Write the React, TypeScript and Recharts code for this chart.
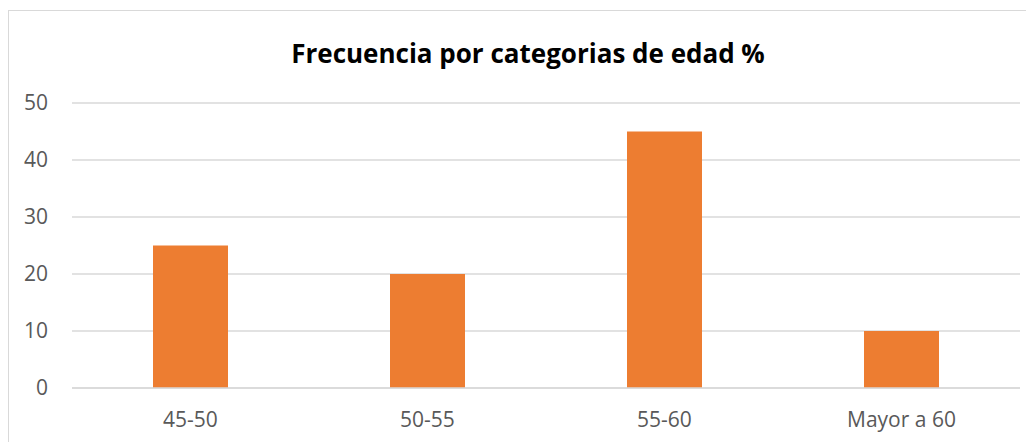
import React from "react";
import {
  BarChart,
  Bar,
  XAxis,
  YAxis,
  CartesianGrid,
} from "recharts";

const categories: string[] = ["45-50", "50-55", "55-60", "Mayor a 60"];
const values: number[] = [25, 20, 45, 10];
const yTicks: number[] = [0, 10, 20, 30, 40, 50];

const data = categories.map((name, i) => ({ name, value: values[i] }));

const FONT = "'Open Sans', sans-serif";

const App: React.FC = () => {
  return (
    <div
      style={{
        position: "relative",
        marginTop: 2,
        width: 1040,
        height: 440,
        border: "1px solid #d9d9d9",
        background: "#fff",
        fontFamily: FONT,
      }}
    >
      <div
        style={{
          position: "absolute",
          top: 29,
          left: 0,
          width: 1038,
          textAlign: "center",
          fontSize: 26,
          lineHeight: "26px",
          fontWeight: 700,
          color: "#000",
        }}
      >
        Frecuencia por categorias de edad %
      </div>
      <BarChart
        width={1026}
        height={440}
        data={data}
        margin={{ top: 92, right: 15, bottom: 33, left: 0 }}
      >
        <CartesianGrid vertical={false} stroke="#d9d9d9" strokeWidth={1.5} />
        <XAxis
          dataKey="name"
          axisLine={{ stroke: "#d9d9d9", strokeWidth: 1.5 }}
          tickLine={false}
          tickSize={0}
          tickMargin={24}
          height={30}
          tick={{ fill: "#595959", fontSize: 21, fontFamily: FONT }}
        />
        <YAxis
          width={63}
          domain={[0, 50]}
          ticks={yTicks}
          axisLine={false}
          tickLine={false}
          tickSize={0}
          tickMargin={24}
          tick={{ fill: "#595959", fontSize: 21, fontFamily: FONT }}
        />
        <Bar dataKey="value" fill="#ED7D31" barSize={75} isAnimationActive={false} />
      </BarChart>
    </div>
  );
};

export default App;
